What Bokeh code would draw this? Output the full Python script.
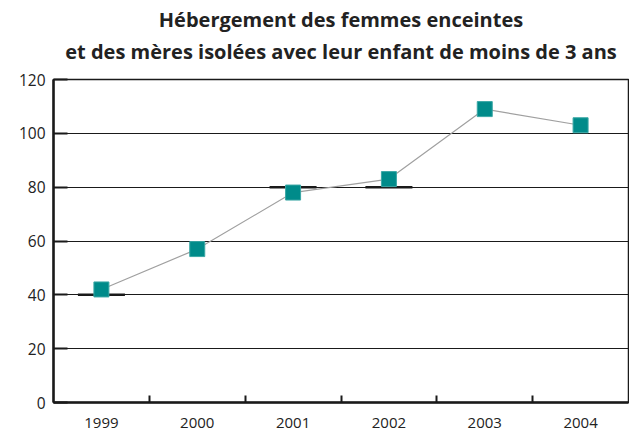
from bokeh.plotting import figure
from bokeh.models import FixedTicker, Title, Range1d, ColumnDataSource
from bokeh.embed import file_html
from bokeh.resources import INLINE

years = ["1999", "2000", "2001", "2002", "2003", "2004"]
values = [42, 57, 78, 83, 109, 103]
ref_marks = [40, float("nan"), 80, 80, float("nan"), float("nan")]
y_ticks = [0, 20, 40, 60, 80, 100, 120]
title_lines = ["Hébergement des femmes enceintes",
               "et des mères isolées avec leur enfant de moins de 3 ans"]

FONT = "Open Sans"
xs = [i + 0.5 for i in range(len(years))]

p = figure(width=629, height=430, output_backend="svg", toolbar_location=None,
           x_range=Range1d(0, len(years)), y_range=Range1d(0, 120),
           min_border_left=53, min_border_right=1, min_border_bottom=10, min_border_top=22)

spacer = Title(text=" ", text_font_size="1px", standoff=12)
t2 = Title(text=title_lines[1], align="center", text_font=FONT, text_font_size="20px",
           text_font_style="bold", text_color="#222222", standoff=0)
t1 = Title(text=title_lines[0], align="center", text_font=FONT, text_font_size="20px",
           text_font_style="bold", text_color="#222222", standoff=6)
p.add_layout(spacer, "above")
p.add_layout(t2, "above")
p.add_layout(t1, "above")

p.outline_line_color = "#1a1a1a"
p.outline_line_width = 1.5
p.background_fill_color = "white"
p.border_fill_color = "white"

p.xaxis.ticker = FixedTicker(ticks=xs, minor_ticks=[1, 2, 3, 4, 5])
p.xaxis.major_label_overrides = {x: y for x, y in zip(xs, years)}
p.xaxis.major_tick_line_color = None
p.xaxis.minor_tick_in = 7
p.xaxis.minor_tick_out = 0
p.xaxis.minor_tick_line_color = "#1a1a1a"
p.xaxis.minor_tick_line_width = 2
p.xaxis.axis_line_color = "#1a1a1a"
p.xaxis.axis_line_width = 2.5
p.xaxis.major_label_text_font = FONT
p.xaxis.major_label_text_font_size = "15px"
p.xaxis.major_label_text_color = "#222222"
p.xaxis.major_label_standoff = 9

p.yaxis.ticker = FixedTicker(ticks=y_ticks, minor_ticks=[])
p.yaxis.major_tick_in = 14
p.yaxis.major_tick_out = 0
p.yaxis.major_tick_line_width = 2
p.yaxis.major_tick_line_color = "#1a1a1a"
p.yaxis.axis_line_color = "#1a1a1a"
p.yaxis.axis_line_width = 2.5
p.yaxis.major_label_text_font = FONT
p.yaxis.major_label_text_font_size = "15.5px"
p.yaxis.major_label_text_color = "#222222"
p.yaxis.major_label_standoff = 8

p.xgrid.grid_line_color = None
p.ygrid.ticker = FixedTicker(ticks=y_ticks)
p.ygrid.grid_line_color = "#1a1a1a"
p.ygrid.grid_line_width = 1.2

src = ColumnDataSource(dict(x=xs, y=values, ref=ref_marks))

p.dash(x="x", y="ref", source=src, size=47, line_width=2.5, line_color="#1a1a1a", angle=0)
p.line(x="x", y="y", source=src, line_color="#a0a0a0", line_width=1.2)
p.scatter(x="x", y="y", source=src, marker="square", size=15,
          fill_color="#008b8a", line_color="#3aa7a5", line_width=1)

open("out.html", "w").write(file_html(p, INLINE))
